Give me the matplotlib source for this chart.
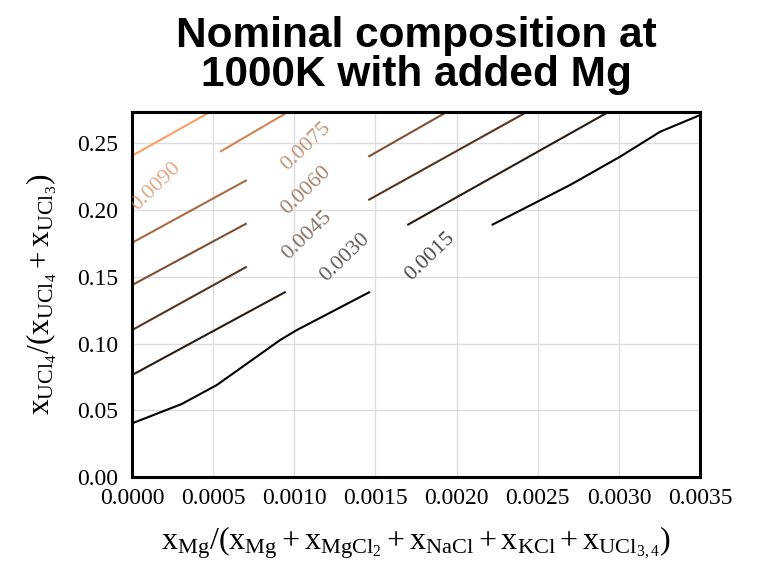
import numpy as np
import matplotlib
matplotlib.use("Agg")
import matplotlib.pyplot as plt

# Contour levels shown on the chart
levels = [0.0015, 0.0030, 0.0045, 0.0060, 0.0075, 0.0090, 0.0105]

# Visible pieces of each contour line (x = Mg fraction, y = UCl4 fraction),
# read off the picture; gaps are where the inline labels sit
segments = {
    0.0015: [([0.0, 0.000306, 0.000522, 0.000912, 0.001015, 0.001467],
              [0.0402, 0.0547, 0.0689, 0.1026, 0.1101, 0.1388]),
             ([0.002216, 0.002699, 0.003007, 0.003254, 0.0035],
              [0.1888, 0.2188, 0.2400, 0.2587, 0.2712])],
    0.0030: [([0.0, 0.000947], [0.0764, 0.1388]),
             ([0.001696, 0.002935], [0.1888, 0.2735])],
    0.0045: [([0.0, 0.000707], [0.1101, 0.1576]),
             ([0.001456, 0.002432], [0.2075, 0.2735])],
    0.0060: [([0.0, 0.000707], [0.1438, 0.1901]),
             ([0.001456, 0.001939], [0.2400, 0.2735])],
    0.0075: [([0.0, 0.000707], [0.1755, 0.2225])],
    0.0090: [([0.000542, 0.000961], [0.2437, 0.2735])],
    0.0105: [([0.0, 0.000481], [0.2407, 0.2735])],
}

# Inline label positions (centre of each label)
label_levels = [0.0015, 0.0030, 0.0045, 0.0060, 0.0075, 0.0090]
label_x = [0.001836, 0.001313, 0.001078, 0.001072, 0.001072, 0.000150]
label_y = [0.1656, 0.1648, 0.1813, 0.2150, 0.2480, 0.2180]

xticks = [0.0000, 0.0005, 0.0010, 0.0015, 0.0020, 0.0025, 0.0030, 0.0035]
yticks = [0.00, 0.05, 0.10, 0.15, 0.20, 0.25]

plt.rcParams['font.family'] = ['Liberation Serif', 'DejaVu Serif']
plt.rcParams['mathtext.fontset'] = 'custom'
plt.rcParams['mathtext.rm'] = 'Liberation Serif'
plt.rcParams['mathtext.it'] = 'Liberation Serif:italic'

fig = plt.figure(figsize=(7.61, 5.62), dpi=100)
ax = fig.add_axes([0.1735, 0.1512, 0.7464, 0.6495])

colors = plt.cm.copper(np.linspace(0, 0.8, len(levels)))
color_of = dict(zip(levels, colors))

for lev in levels:
    for xs, ys in segments[lev]:
        ax.plot(xs, ys, color=color_of[lev], lw=1.5, solid_capstyle='butt')

for lev, lx, ly in zip(label_levels, label_x, label_y):
    ax.text(lx, ly, f"{lev:.4f}", color=color_of[lev], alpha=0.7,
            fontsize=16, rotation=44, ha='center', va='center',
            rotation_mode='anchor', clip_on=True)

ax.set_xlim(0, 0.0035)
ax.set_ylim(0, 0.2735)
ax.set_xticks(xticks)
ax.set_yticks(yticks)
ax.set_xticklabels([f"{t:.4f}" for t in xticks])
ax.set_yticklabels([f"{t:.2f}" for t in yticks])
ax.tick_params(length=0, labelsize=17)
ax.tick_params(axis='x', pad=8)
ax.tick_params(axis='y', pad=10)
ax.grid(True, color='#dddddd', lw=1)
ax.set_axisbelow(True)
for sp in ax.spines.values():
    sp.set_linewidth(2.2)
    sp.set_color('black')

ax.set_xlabel(r'$\mathrm{x_{Mg}/(x_{Mg}+x_{MgCl_2}+x_{NaCl}+x_{KCl}+x_{UCl_{3,4}})}$',
              fontsize=23, labelpad=11)
ax.set_ylabel(r'$\mathrm{x_{UCl_4}/(x_{UCl_4}+x_{UCl_3})}$', fontsize=22.5, labelpad=13)

fig.text(0.5466, 0.972, "Nominal composition at\n1000K with added Mg",
         ha='center', va='top', fontsize=30.5, fontweight='bold',
         family='Liberation Sans', linespacing=0.97)

fig.savefig("out.png", dpi=100)
